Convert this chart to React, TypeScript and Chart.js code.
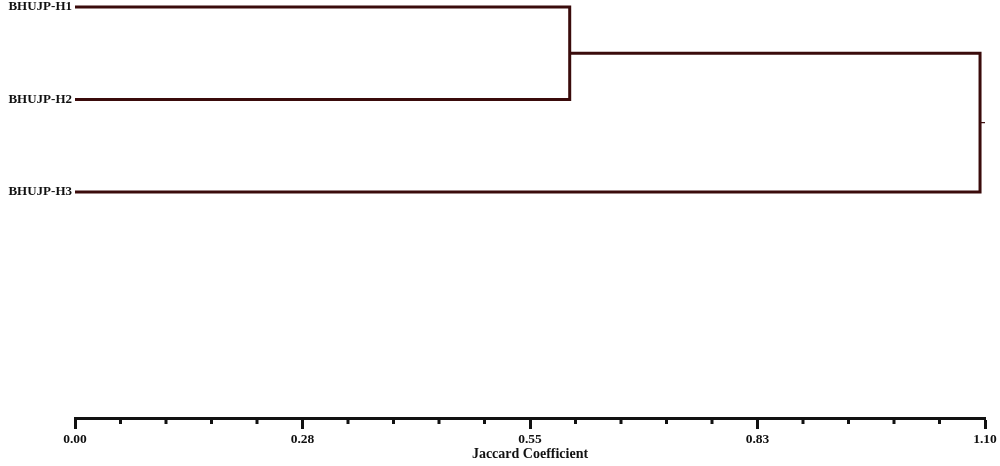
import React, { useEffect, useRef } from "react";
import { Chart, registerables } from "chart.js";

Chart.register(...registerables);

// Leaves (top to bottom) and their row positions
const leafNames = ["BHUJP-H1", "BHUJP-H2", "BHUJP-H3"];
const leafRows = [0, 1, 2];
// Merge heights (Jaccard coefficient scale)
const mergeH1H2 = 0.598;
const mergeRoot = 1.094;
// Axis ticks
const axisMax = 1.1;
const majorTickValues = [0, 0.275, 0.55, 0.825, 1.1];
const majorTickLabels = ["0.00", "0.28", "0.55", "0.83", "1.10"];
const minorStep = 0.055;

const LINE = "#3a0b0b";
const AXIS = "#111111";
const SERIF = "'Liberation Serif', 'Times New Roman', serif";

export default function App() {
  const ref = useRef<HTMLCanvasElement | null>(null);

  useEffect(() => {
    if (!ref.current) return;
    const c1 = (leafRows[0] + leafRows[1]) / 2;
    const rootY = (c1 + leafRows[2]) / 2;

    const datasets: any[] = [
      {
        data: [
          { x: 0, y: leafRows[0] },
          { x: mergeH1H2, y: leafRows[0] },
          { x: mergeH1H2, y: leafRows[1] },
          { x: 0, y: leafRows[1] },
        ],
        borderWidth: 3,
      },
      {
        data: [
          { x: mergeH1H2, y: c1 },
          { x: mergeRoot, y: c1 },
          { x: mergeRoot, y: leafRows[2] },
          { x: 0, y: leafRows[2] },
        ],
        borderWidth: 3,
      },
      {
        data: [
          { x: mergeRoot, y: rootY },
          { x: axisMax, y: rootY },
        ],
        borderWidth: 1.2,
      },
    ].map((d) => ({
      ...d,
      showLine: true,
      pointRadius: 0,
      borderColor: LINE,
      borderJoinStyle: "miter",
      borderCapStyle: "butt",
      fill: false,
    }));

    const minorTicks = {
      id: "minorTicks",
      afterDraw(chart: any) {
        const sx = chart.scales.x;
        const ctx = chart.ctx;
        const y0 = chart.chartArea.bottom;
        ctx.save();
        ctx.strokeStyle = AXIS;
        ctx.lineWidth = 3;
        const n = Math.round(axisMax / minorStep);
        for (let i = 0; i <= n; i++) {
          if (i % 5 === 0) continue;
          const px = sx.getPixelForValue(i * minorStep);
          ctx.beginPath();
          ctx.moveTo(px, y0);
          ctx.lineTo(px, y0 + 6);
          ctx.stroke();
        }
        ctx.restore();
      },
    };

    const chart = new Chart(ref.current, {
      type: "scatter",
      data: { datasets },
      plugins: [minorTicks],
      options: {
        animation: false,
        responsive: false,
        layout: { padding: { top: 0, right: 15, left: 0, bottom: 0 } },
        plugins: { legend: { display: false }, tooltip: { enabled: false } },
        scales: {
          x: {
            type: "linear",
            position: "bottom",
            min: 0,
            max: axisMax,
            afterBuildTicks: (s: any) => {
              s.ticks = majorTickValues.map((v) => ({ value: v }));
            },
            afterFit: (s: any) => {
              s.height = 48;
              s.paddingLeft = 0;
              s.paddingRight = 0;
            },
            ticks: {
              autoSkip: false,
              maxRotation: 0,
              padding: 2,
              color: AXIS,
              font: { family: SERIF, size: 13.5, weight: "bold" },
              callback: (_v: any, i: number) => majorTickLabels[i],
            },
            grid: {
              drawOnChartArea: false,
              drawTicks: true,
              tickLength: 11,
              tickWidth: 3,
              tickColor: AXIS,
            },
            border: { display: true, color: AXIS, width: 3 },
            title: {
              display: true,
              text: "Jaccard Coefficient",
              color: AXIS,
              padding: { top: 2, bottom: 3 },
              font: { family: SERIF, size: 14, weight: "bold" },
            },
          },
          y: {
            type: "linear",
            reverse: true,
            min: -0.0757,
            max: 4.443,
            afterBuildTicks: (s: any) => {
              s.ticks = leafRows.map((v) => ({ value: v }));
            },
            afterFit: (s: any) => {
              s.width = 75;
              s.paddingTop = 0;
              s.paddingBottom = 0;
            },
            ticks: {
              autoSkip: false,
              padding: 3,
              color: AXIS,
              font: { family: SERIF, size: 13, weight: "bold" },
              callback: (v: any) => leafNames[leafRows.indexOf(Number(v))] ?? "",
            },
            grid: { display: false, drawTicks: false },
            border: { display: false },
          },
        },
      } as any,
    });
    return () => chart.destroy();
  }, []);

  return (
    <div style={{ position: "absolute", left: 0, top: 0, width: 1000, height: 466, background: "#fff" }}>
      <canvas ref={ref} width={1000} height={466} style={{ width: 1000, height: 466 }} />
    </div>
  );
}
